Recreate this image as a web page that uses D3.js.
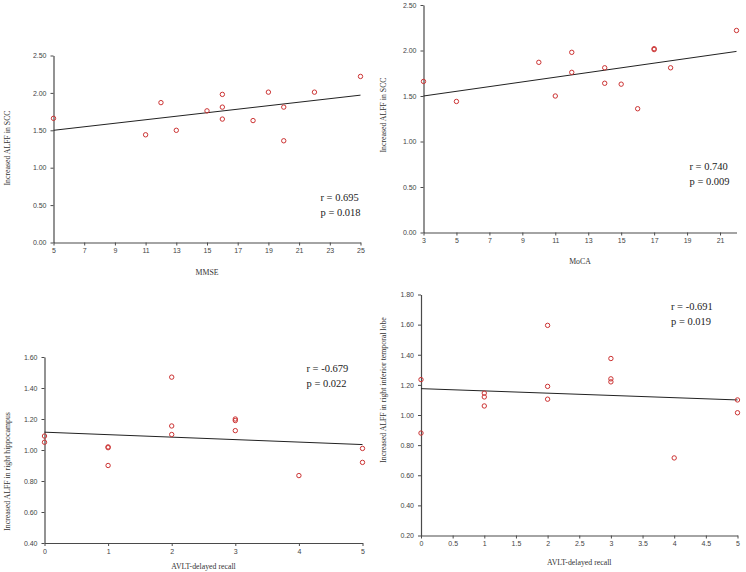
<!DOCTYPE html>
<html>
<head>
<meta charset="utf-8">
<script src="https://cdn.jsdelivr.net/npm/d3@7"></script>
<style>
  html, body { margin: 0; padding: 0; background: #fff; }
  svg { display: block; }
  text { font-family: "Liberation Serif", "Times New Roman", serif; }
</style>
</head>
<body>
<svg id="chart" width="746" height="572"></svg>
<script>
// ---- Data ----
// Panel A: MMSE vs Increased ALFF in SCC
const mmseX = [5, 11, 12, 13, 15, 16, 16, 16, 18, 19, 20, 20, 22, 25];
const mmseY = [1.66, 1.44, 1.87, 1.50, 1.76, 1.98, 1.81, 1.65, 1.63, 2.01, 1.81, 1.36, 2.01, 2.22];
const mmseFit = [1.50, 1.97];          // fitted value at x = 5 and x = 25
const mmseXTicks = [5, 7, 9, 11, 13, 15, 17, 19, 21, 23, 25];
const mmseYTicks = [0, 0.5, 1.0, 1.5, 2.0, 2.5];
const mmseStats = ["r = 0.695", "p = 0.018"];

// Panel B: MoCA vs Increased ALFF in SCC
const mocaX = [3, 5, 10, 11, 12, 12, 14, 14, 15, 16, 17, 17, 18, 22];
const mocaY = [1.66, 1.44, 1.87, 1.50, 1.98, 1.76, 1.81, 1.64, 1.63, 1.36, 2.02, 2.01, 1.81, 2.22];
const mocaFit = [1.50, 1.99];          // at x = 3 and x = 22
const mocaXTicks = [3, 5, 7, 9, 11, 13, 15, 17, 19, 21];
const mocaYTicks = [0, 0.5, 1.0, 1.5, 2.0, 2.5];
const mocaStats = ["r = 0.740", "p = 0.009"];

// Panel C: AVLT-delayed recall vs Increased ALFF in right hippocampus
const hippoX = [0, 0, 1, 1, 1, 2, 2, 2, 3, 3, 3, 4, 5, 5];
const hippoY = [1.09, 1.05, 1.02, 1.015, 0.90, 1.47, 1.155, 1.10, 1.20, 1.19, 1.125, 0.835, 1.01, 0.92];
const hippoFit = [1.115, 1.035];       // at x = 0 and x = 5
const hippoXTicks = [0, 1, 2, 3, 4, 5];
const hippoYTicks = [0.4, 0.6, 0.8, 1.0, 1.2, 1.4, 1.6];
const hippoStats = ["r = -0.679", "p = 0.022"];

// Panel D: AVLT-delayed recall vs Increased ALFF in right inferior temporal lobe
const itlX = [0, 0, 1, 1, 1, 2, 2, 2, 3, 3, 3, 4, 5, 5];
const itlY = [1.235, 0.88, 1.145, 1.12, 1.06, 1.595, 1.19, 1.105, 1.375, 1.24, 1.22, 0.715, 1.10, 1.015];
const itlFit = [1.175, 1.10];          // at x = 0 and x = 5
const itlXTicks = [0, 0.5, 1, 1.5, 2, 2.5, 3, 3.5, 4, 4.5, 5];
const itlYTicks = [0.2, 0.4, 0.6, 0.8, 1.0, 1.2, 1.4, 1.6, 1.8];
const itlStats = ["r = -0.691", "p = 0.019"];

// ---- Drawing ----
const svg = d3.select("#chart");
const AXIS_COLOR = "#4a4a4a";
const POINT_COLOR = "#cc3333";

function drawPanel(cfg) {
  const g = svg.append("g");
  const x = d3.scaleLinear().domain(cfg.xDomain).range([cfg.left, cfg.right]);
  const y = d3.scaleLinear().domain(cfg.yDomain).range([cfg.bottom, cfg.top]);

  const yAxis = d3.axisLeft(y).tickValues(cfg.yTicks).tickFormat(d3.format(".2f"))
    .tickSize(3).tickSizeOuter(0).tickPadding(4);
  const xAxis = d3.axisBottom(x).tickValues(cfg.xTicks).tickFormat(d3.format("~g"))
    .tickSize(3).tickSizeOuter(0).tickPadding(3);

  const ya = g.append("g").attr("transform", `translate(${cfg.left},0)`).call(yAxis);
  const xa = g.append("g").attr("transform", `translate(0,${cfg.bottom})`).call(xAxis);
  [ya, xa].forEach(a => {
    a.select(".domain").attr("stroke", AXIS_COLOR).attr("stroke-width", 1.2);
    a.selectAll(".tick line").attr("stroke", AXIS_COLOR);
    a.selectAll(".tick text").attr("fill", "#444").style("font-size", "7px")
      .style("font-family", "'Liberation Sans', Arial, sans-serif");
  });

  // regression line
  g.append("line")
    .attr("x1", x(cfg.xDomain[0])).attr("y1", y(cfg.fit[0]))
    .attr("x2", x(cfg.xDomain[1])).attr("y2", y(cfg.fit[1]))
    .attr("stroke", "#222").attr("stroke-width", 1);

  // points
  g.selectAll("circle.pt").data(cfg.xs.map((v, i) => [v, cfg.ys[i]]))
    .enter().append("circle").attr("class", "pt")
    .attr("cx", d => x(d[0])).attr("cy", d => y(d[1]))
    .attr("r", 2.2).attr("fill", "none")
    .attr("stroke", POINT_COLOR).attr("stroke-width", 1);

  // axis titles
  g.append("text").attr("x", (cfg.left + cfg.right) / 2).attr("y", cfg.xTitleY)
    .attr("text-anchor", "middle").attr("fill", "#333").style("font-size", "7.8px")
    .text(cfg.xTitle);
  g.append("text")
    .attr("transform", `translate(${cfg.yTitleX},${cfg.yTitleCY}) rotate(-90)`)
    .attr("text-anchor", "middle").attr("fill", "#333").style("font-size", "7.8px")
    .text(cfg.yTitle);

  // stats
  cfg.stats.forEach((s, i) => {
    g.append("text").attr("x", cfg.statX).attr("y", cfg.statY + i * 15)
      .attr("fill", "#222").style("font-size", "10.5px").text(s);
  });
}

drawPanel({
  xs: mmseX, ys: mmseY, fit: mmseFit, xTicks: mmseXTicks, yTicks: mmseYTicks, stats: mmseStats,
  xDomain: [5, 25], yDomain: [0, 2.5],
  left: 53.5, right: 360.5, top: 55.5, bottom: 242.5,
  xTitle: "MMSE", xTitleY: 275, yTitle: "Increased ALFF in SCC", yTitleX: 10, yTitleCY: 148,
  statX: 320.5, statY: 201
});

drawPanel({
  xs: mocaX, ys: mocaY, fit: mocaFit, xTicks: mocaXTicks, yTicks: mocaYTicks, stats: mocaStats,
  xDomain: [3, 22], yDomain: [0, 2.5],
  left: 423.5, right: 736.5, top: 5, bottom: 232.5,
  xTitle: "MoCA", xTitleY: 264, yTitle: "Increased ALFF in SCC", yTitleX: 386, yTitleCY: 115,
  statX: 689.5, statY: 169.5
});

drawPanel({
  xs: hippoX, ys: hippoY, fit: hippoFit, xTicks: hippoXTicks, yTicks: hippoYTicks, stats: hippoStats,
  xDomain: [0, 5], yDomain: [0.4, 1.6],
  left: 44.5, right: 362.5, top: 357, bottom: 543,
  xTitle: "AVLT-delayed recall", xTitleY: 569, yTitle: "Increased ALFF in right hippocampus",
  yTitleX: 10, yTitleCY: 471.5,
  statX: 306.5, statY: 371.5
});

drawPanel({
  xs: itlX, ys: itlY, fit: itlFit, xTicks: itlXTicks, yTicks: itlYTicks, stats: itlStats,
  xDomain: [0, 5], yDomain: [0.2, 1.8],
  left: 421, right: 737.5, top: 294.5, bottom: 535.5,
  xTitle: "AVLT-delayed recall", xTitleY: 565, yTitle: "Increased ALFF in right inferior temporal lobe",
  yTitleX: 386, yTitleCY: 390,
  statX: 671, statY: 309.5
});
</script>
</body>
</html>
